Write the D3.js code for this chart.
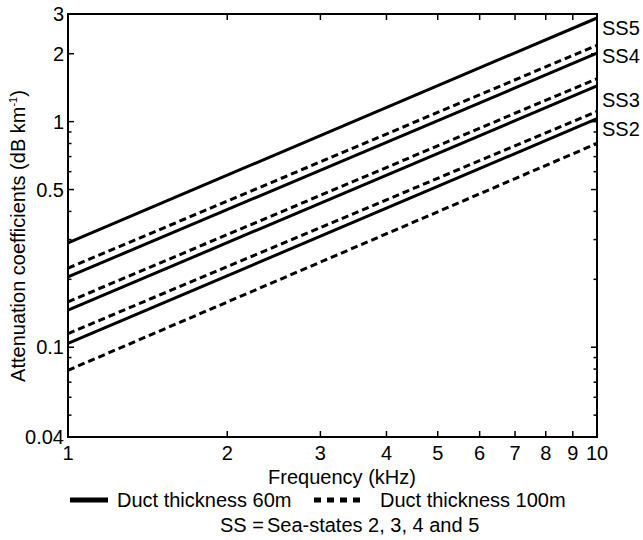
<!DOCTYPE html>
<html>
<head>
<meta charset="utf-8">
<script src="https://cdn.jsdelivr.net/npm/d3@7"></script>
<style>
  body { margin: 0; background: #fff; }
  svg { font-family: "Liberation Sans", Arial, sans-serif; }
</style>
</head>
<body>
<svg id="chart" width="643" height="540"></svg>
<script>
// attenuation at 1 kHz and 10 kHz for each sea state
const freqs = [1, 10];
const seaStates = ['SS5', 'SS4', 'SS3', 'SS2'];
const duct60 = [[0.29, 2.88], [0.205, 2.01], [0.146, 1.44], [0.104, 1.03]];
const duct100 = [[0.224, 2.18], [0.159, 1.55], [0.115, 1.11], [0.079, 0.80]];
const xTicks = [1, 2, 3, 4, 5, 6, 7, 8, 9, 10];
const yTicks = [0.04, 0.1, 0.5, 1, 2, 3];
const yMinor = [0.05, 0.06, 0.07, 0.08, 0.09, 0.2, 0.3, 0.4, 0.6, 0.7, 0.8, 0.9];
const ssLabelY = [2.6, 1.95, 1.25, 0.93];

const svg = d3.select('#chart');
const m = { left: 68, right: 597, top: 14, bottom: 437 };
const fs = 20;

const x = d3.scaleLog().domain([1, 10]).range([m.left, m.right]);
const y = d3.scaleLog().domain([0.04, 3]).range([m.bottom, m.top]);

const tickLen = 6;
const g = svg.append('g');

// box
g.append('rect')
  .attr('x', m.left).attr('y', m.top)
  .attr('width', m.right - m.left).attr('height', m.bottom - m.top)
  .attr('fill', 'none').attr('stroke', '#000').attr('stroke-width', 2);

// x ticks, inward on top and bottom
xTicks.forEach(function(t) {
  g.append('line').attr('x1', x(t)).attr('x2', x(t))
    .attr('y1', m.bottom).attr('y2', m.bottom - tickLen)
    .attr('stroke', '#000').attr('stroke-width', 1.5);
  g.append('line').attr('x1', x(t)).attr('x2', x(t))
    .attr('y1', m.top).attr('y2', m.top + tickLen)
    .attr('stroke', '#000').attr('stroke-width', 1.5);
  g.append('text').attr('x', x(t)).attr('y', m.bottom + 23)
    .attr('text-anchor', 'middle').attr('font-size', fs).text(t);
});

// y ticks
yTicks.concat(yMinor).forEach(function(t) {
  const len = yTicks.includes(t) ? tickLen : 3.5;
  g.append('line').attr('x1', m.left).attr('x2', m.left + len)
    .attr('y1', y(t)).attr('y2', y(t))
    .attr('stroke', '#000').attr('stroke-width', 1.5);
  g.append('line').attr('x1', m.right).attr('x2', m.right - len)
    .attr('y1', y(t)).attr('y2', y(t))
    .attr('stroke', '#000').attr('stroke-width', 1.5);
});
yTicks.forEach(function(t) {
  g.append('text').attr('x', m.left - 4).attr('y', y(t) + 7)
    .attr('text-anchor', 'end').attr('font-size', fs).text(t);
});

// lines
const line = d3.line()
  .x(function(d, i) { return x(freqs[i]); })
  .y(function(d) { return y(d); });

duct60.forEach(function(s) {
  g.append('path').attr('d', line(s)).attr('fill', 'none')
    .attr('stroke', '#000').attr('stroke-width', 3);
});
duct100.forEach(function(s) {
  g.append('path').attr('d', line(s)).attr('fill', 'none')
    .attr('stroke', '#000').attr('stroke-width', 3)
    .attr('stroke-dasharray', '7,4');
});

// sea state labels
seaStates.forEach(function(s, i) {
  g.append('text').attr('x', m.right + 5).attr('y', y(ssLabelY[i]) + 7)
    .attr('font-size', fs).text(s);
});

// axis titles
svg.append('text').attr('x', 342).attr('y', 484)
  .attr('text-anchor', 'middle').attr('font-size', fs).text('Frequency (kHz)');

const yt = svg.append('text')
  .attr('transform', 'translate(25,' + 236 + ') rotate(-90)')
  .attr('text-anchor', 'middle').attr('font-size', fs);
yt.append('tspan').text('Attenuation coefficients (dB km');
yt.append('tspan').attr('font-size', 11).attr('dy', -8).text('-1');
yt.append('tspan').attr('dy', 8).text(')');

// legend
const ly = 500;
svg.append('line').attr('x1', 70).attr('x2', 108).attr('y1', ly).attr('y2', ly)
  .attr('stroke', '#000').attr('stroke-width', 5);
svg.append('text').attr('x', 117).attr('y', ly + 7).attr('font-size', fs).text('Duct thickness 60m');
svg.append('line').attr('x1', 314).attr('x2', 362).attr('y1', ly).attr('y2', ly)
  .attr('stroke', '#000').attr('stroke-width', 5).attr('stroke-dasharray', '7,6');
svg.append('text').attr('x', 380).attr('y', ly + 7).attr('font-size', fs).text('Duct thickness 100m');
const ss = svg.append('text').attr('x', 220).attr('y', 532).attr('font-size', fs);
ss.append('tspan').text('SS =');
ss.append('tspan').attr('dx', 3).text('Sea-states 2, 3, 4 and 5');
</script>
</body>
</html>
